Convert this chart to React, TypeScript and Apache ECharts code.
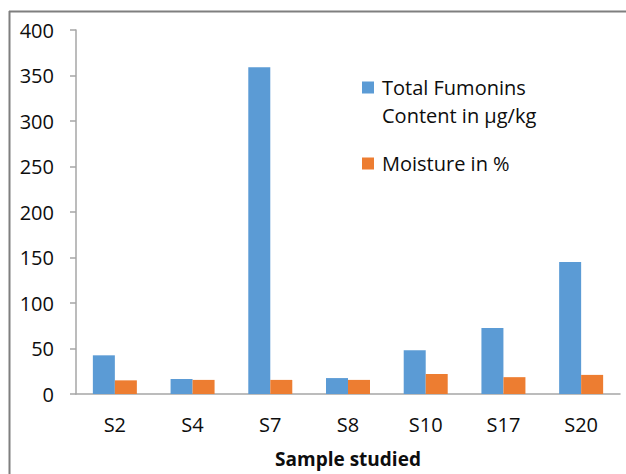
import React, { useEffect, useRef } from "react";
import * as echarts from "echarts";

const categories = ["S2", "S4", "S7", "S8", "S10", "S17", "S20"];
const fumonins = [42.5, 16.5, 359, 17.5, 48, 72.5, 145];
const moisture = [15, 15.5, 15.5, 15.5, 22, 18.5, 21];
const seriesNames = ["Total Fumonins Content in µg/kg", "Moisture in %"];
const yTicks = { min: 0, max: 400, interval: 50 };
const xAxisTitle = "Sample studied";

const FONT = "'Open Sans', sans-serif";
const TEXT = "#0d0d0d";
const AXIS = "#a6a6a6";

const legendText = {
  fontFamily: FONT,
  fontSize: 20,
  color: TEXT,
  lineHeight: 28,
  padding: [0, 0, 0, 3],
};

export default function App() {
  const ref = useRef<HTMLDivElement>(null);
  useEffect(() => {
    document.body.style.margin = "0";
    const chart = echarts.init(ref.current!, null, { renderer: "svg" });
    chart.setOption({
      animation: false,
      backgroundColor: "#ffffff",
      textStyle: { fontFamily: FONT, color: TEXT },
      grid: { left: 76, right: 6, top: 30, bottom: 80, containLabel: false },
      legend: [
        {
          orient: "vertical",
          left: 362,
          top: 45.5,
          padding: 0,
          itemWidth: 12,
          itemHeight: 12,
          icon: "rect",
          selectedMode: false,
          textStyle: legendText,
          formatter: () => "\nTotal Fumonins\nContent in µg/kg",
          data: [seriesNames[0]],
        },
        {
          orient: "vertical",
          left: 362,
          top: 149.5,
          padding: 0,
          itemWidth: 12,
          itemHeight: 12,
          icon: "rect",
          selectedMode: false,
          textStyle: legendText,
          data: [seriesNames[1]],
        },
      ],
      xAxis: {
        type: "category",
        data: categories,
        axisLine: { show: true, lineStyle: { color: AXIS, width: 1.5 } },
        axisTick: { show: false },
        axisLabel: { fontFamily: FONT, fontSize: 20, color: TEXT, margin: 20 },
        name: xAxisTitle,
        nameLocation: "middle",
        nameGap: 55,
        nameTextStyle: { fontFamily: FONT, fontSize: 19, fontWeight: "bold", color: TEXT },
      },
      yAxis: {
        type: "value",
        min: yTicks.min,
        max: yTicks.max,
        interval: yTicks.interval,
        splitLine: { show: false },
        axisLine: { show: true, lineStyle: { color: AXIS, width: 1.5 } },
        axisTick: { show: true, length: 6, lineStyle: { color: AXIS, width: 1.5 } },
        axisLabel: { fontFamily: FONT, fontSize: 20, color: TEXT, margin: 22 },
      },
      series: [
        {
          name: seriesNames[0],
          type: "bar",
          data: fumonins,
          barWidth: 22,
          barGap: "0%",
          itemStyle: { color: "#5b9bd5" },
        },
        {
          name: seriesNames[1],
          type: "bar",
          data: moisture,
          barWidth: 22,
          barGap: "0%",
          itemStyle: { color: "#ed7d31" },
        },
      ],
      graphic: [
        {
          type: "line",
          shape: { x1: 9, y1: 11.5, x2: 626, y2: 11.5 },
          style: { stroke: "#7f7f7f", lineWidth: 2 },
        },
        {
          type: "line",
          shape: { x1: 9.5, y1: 11, x2: 9.5, y2: 474 },
          style: { stroke: "#7f7f7f", lineWidth: 2 },
        },
      ],
    });
    return () => chart.dispose();
  }, []);
  return <div ref={ref} style={{ width: 626, height: 474 }} />;
}
